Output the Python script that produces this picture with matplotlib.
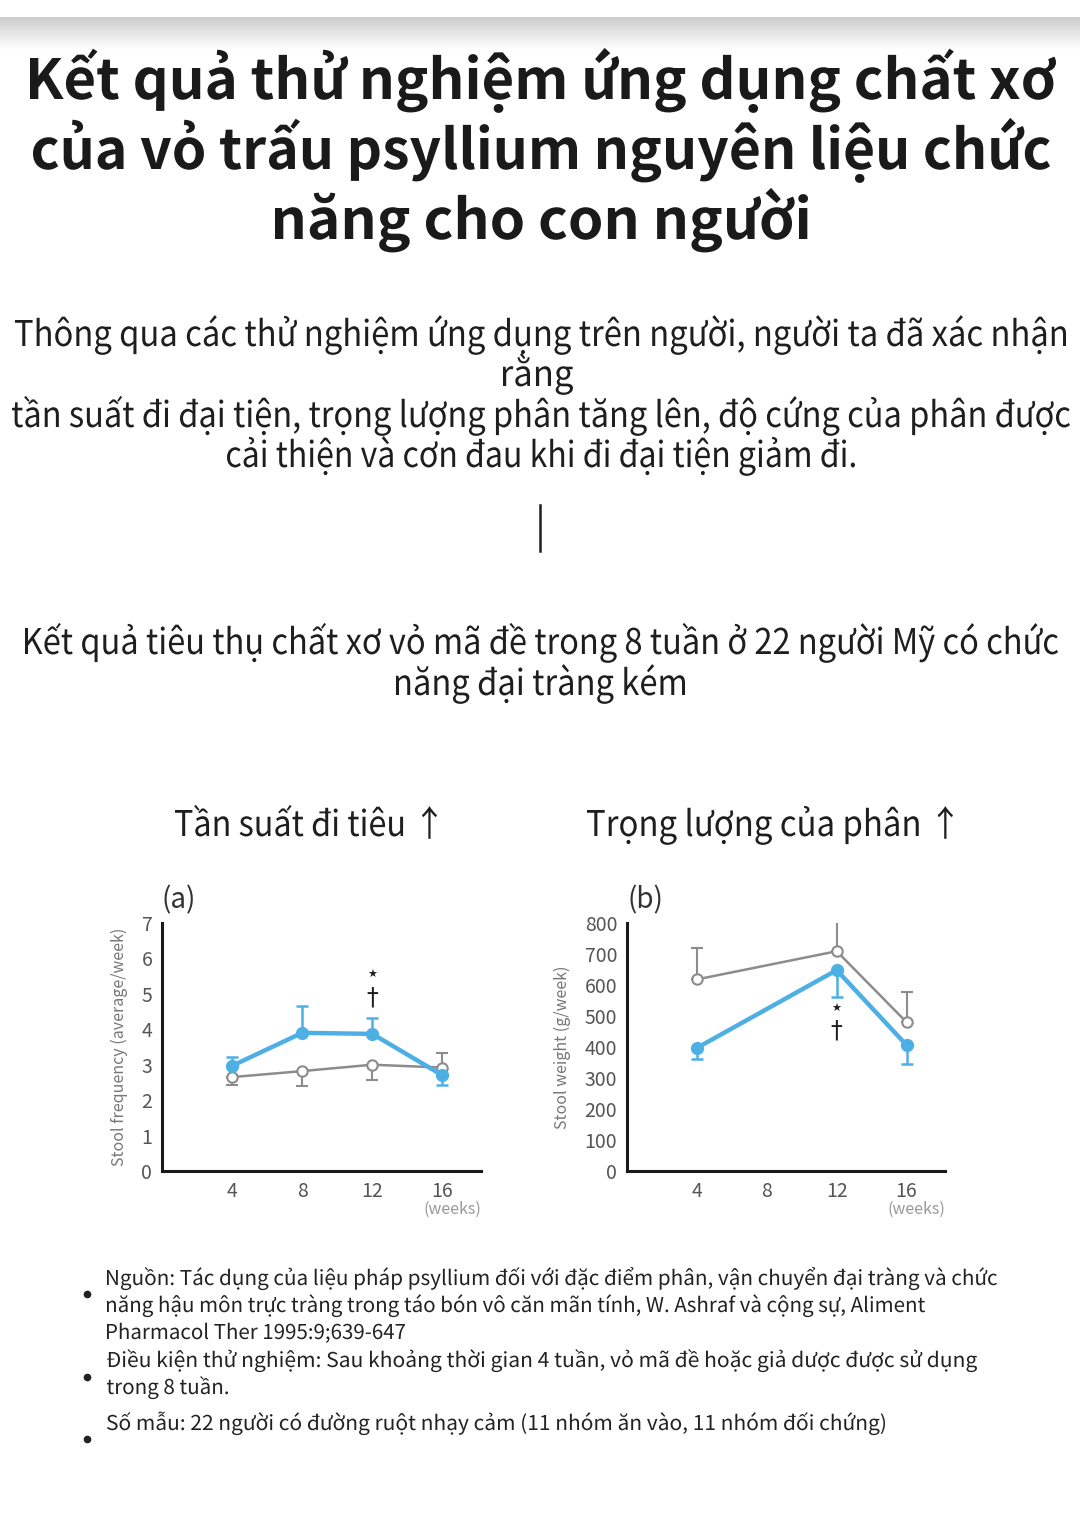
import numpy as np
import matplotlib.pyplot as plt
from matplotlib.font_manager import FontProperties
from matplotlib.textpath import TextPath
from matplotlib.patches import PathPatch
from matplotlib.transforms import Affine2D

FAMILY = ['Noto Sans CJK KR', 'Noto Sans', 'DejaVu Sans']
plt.rcParams['font.family'] = FAMILY

W, H = 1080, 1516

# --- texts ---
title_lines = ["Kết quả thử nghiệm ứng dụng chất xơ",
               "của vỏ trấu psyllium nguyên liệu chức",
               "năng cho con người"]
intro_lines = ["Thông qua các thử nghiệm ứng dụng trên người, người ta đã xác nhận",
               "rằng",
               "tần suất đi đại tiện, trọng lượng phân tăng lên, độ cứng của phân được",
               "cải thiện và cơn đau khi đi đại tiện giảm đi."]
study_lines = ["Kết quả tiêu thụ chất xơ vỏ mã đề trong 8 tuần ở 22 người Mỹ có chức",
               "năng đại tràng kém"]
chart_titles = ["Tần suất đi tiêu ↑", "Trọng lượng của phân ↑"]
notes = [["Nguồn: Tác dụng của liệu pháp psyllium đối với đặc điểm phân, vận chuyển đại tràng và chức",
          "năng hậu môn trực tràng trong táo bón vô căn mãn tính, W. Ashraf và cộng sự, Aliment",
          "Pharmacol Ther 1995:9;639-647"],
         ["Điều kiện thử nghiệm: Sau khoảng thời gian 4 tuần, vỏ mã đề hoặc giả dược được sử dụng",
          "trong 8 tuần."],
         ["Số mẫu: 22 người có đường ruột nhạy cảm (11 nhóm ăn vào, 11 nhóm đối chứng)"]]

# --- data ---
weeks = [4, 8, 12, 16]
ticks = [4, 8, 12, 16]

freq_psyllium = [2.97, 3.90, 3.87, 2.70]
freq_psyllium_err_up = [0.24, 0.76, 0.44, 0.0]
freq_psyllium_err_dn = [0.0, 0.0, 0.0, 0.26]
freq_placebo = [2.65, 2.82, 3.00, 2.92]
freq_placebo_err_up = [0.0, 0.0, 0.0, 0.40]
freq_placebo_err_dn = [0.22, 0.43, 0.44, 0.0]

weight_weeks = [4, 12, 16]
weight_psyllium = [397, 648, 406]
weight_psyllium_err_up = [0, 0, 0]
weight_psyllium_err_dn = [35, 86, 62]
weight_placebo = [618, 709, 480]
weight_placebo_err_up = [100, 183, 97]
weight_placebo_err_dn = [0, 0, 0]

BLUE = '#4db0e4'
GRAY = '#8c8c8c'
DARK = '#1e1e1e'

fp_reg = FontProperties(family=FAMILY)
fp_bold = FontProperties(family=FAMILY, weight='bold')


def fx(x):
    return x / W


def fy(y):
    return 1 - y / H


fig = plt.figure(figsize=(W / 100, H / 100), dpi=100)

# page layer in pixel coordinates (y down)
bg = fig.add_axes([0, 0, 1, 1])
bg.axis('off')

# shadow band at the top
grad = np.linspace(0.80, 1.0, 64).reshape(-1, 1)
bg.imshow(grad, cmap='gray', vmin=0, vmax=1, aspect='auto',
          extent=[0, W, 50, 17], interpolation='bilinear')
bg.set_xlim(0, W)
bg.set_ylim(H, 0)


def page_text(s, x0, x1, baseline, cap, fp=fp_reg, color=DARK):
    """Draw text squeezed to span x0..x1 with a given cap height."""
    ref = TextPath((0, 0), 'H', size=100, prop=fp).get_extents()
    size = 100 * cap / ref.height
    tp = TextPath((0, 0), s, size=size, prop=fp)
    bb = tp.get_extents()
    sx = (x1 - x0) / bb.width
    tr = Affine2D().translate(-bb.x0, 0).scale(sx, -1).translate(x0, baseline)
    bg.add_patch(PathPatch(tr.transform_path(tp), fc=color, ec='none', lw=0))


# title
for line, (x0, x1), b in zip(title_lines, [(30, 1056), (33, 1050), (275, 808)], [99, 169, 239]):
    page_text(line, x0, x1, b, 41, fp_bold, '#1a1a1a')

# intro paragraph
for line, (x0, x1), b in zip(intro_lines, [(15, 1066), (503, 573), (12, 1070), (227, 855)],
                             [346, 386, 427, 467]):
    page_text(line, x0, x1, b, 26)

# small vertical divider
bg.plot([540, 540], [505, 551], color=DARK, lw=1.8)

for line, (x0, x1), b in zip(study_lines, [(25, 1058), (396, 685)], [654, 695]):
    page_text(line, x0, x1, b, 26)

page_text(chart_titles[0], 175, 437, 836, 26)
page_text(chart_titles[1], 587, 953, 836, 26)

# footnotes
note_spans = [[(107, 997), (107, 925), (107, 405)], [(107, 977), (107, 228)], [(107, 885)]]
note_base = [[1285, 1312, 1339], [1367, 1394], [1430]]
bullet_y = [1294, 1377, 1439]
for lines, spans, bases, by in zip(notes, note_spans, note_base, bullet_y):
    for line, (x0, x1), b in zip(lines, spans, bases):
        page_text(line, x0, x1, b, 15, color='#222222')
    bg.plot([87], [by], 'o', color='#222222', ms=4.5)


def draw_panel(ax, label, ylabel, ymax, yticks):
    ax.set_xlim(0, 18.2)
    ax.set_ylim(0, ymax)
    ax.set_xticks(ticks)
    ax.set_yticks(yticks)
    ax.tick_params(length=0, labelsize=14, labelcolor='#555555', pad=7)
    for s in ['top', 'right']:
        ax.spines[s].set_visible(False)
    for s in ['left', 'bottom']:
        ax.spines[s].set_linewidth(2.2)
        ax.spines[s].set_color('#1a1a1a')
    ax.set_ylabel(ylabel, fontsize=11.5, color='#777777', labelpad=10)
    ax.text(0.0, 1.09, label, transform=ax.transAxes, fontsize=20,
            color='#333333', ha='left', va='center')
    ax.text(1.0, -0.155, '(weeks)', transform=ax.transAxes, fontsize=11.5,
            color='#999999', ha='right', va='center')
    ax.patch.set_alpha(0)


# panel (a)
ax1 = fig.add_axes([fx(162), fy(1171), (481 - 162) / W, (1171 - 923) / H])
draw_panel(ax1, '(a)', 'Stool frequency (average/week)', 7, range(0, 8))
ax1.errorbar(weeks, freq_placebo, yerr=[freq_placebo_err_dn, freq_placebo_err_up],
             color=GRAY, lw=1.8, marker='o', ms=7.5, mfc='white', mec=GRAY, mew=1.5,
             capsize=4, elinewidth=1.5, capthick=1.5, zorder=3)
ax1.errorbar(weeks, freq_psyllium, yerr=[freq_psyllium_err_dn, freq_psyllium_err_up],
             color=BLUE, lw=3.2, marker='o', ms=8.5, mfc=BLUE, mec=BLUE,
             capsize=4, elinewidth=1.8, capthick=1.8, zorder=4)
ax1.text(12, 5.52, '★', ha='center', va='center', fontsize=8, color=DARK,
         family='DejaVu Sans')
ax1.text(12, 4.9, '†', ha='center', va='center', fontsize=17, color=DARK,
         family='DejaVu Sans')

# panel (b)
ax2 = fig.add_axes([fx(627), fy(1171), (945 - 627) / W, (1171 - 923) / H])
draw_panel(ax2, '(b)', 'Stool weight (g/week)', 800, range(0, 801, 100))
ax2.errorbar(weight_weeks, weight_placebo, yerr=[weight_placebo_err_dn, weight_placebo_err_up],
             color=GRAY, lw=1.8, marker='o', ms=7.5, mfc='white', mec=GRAY, mew=1.5,
             capsize=4, elinewidth=1.5, capthick=1.5, zorder=3)
ax2.errorbar(weight_weeks, weight_psyllium, yerr=[weight_psyllium_err_dn, weight_psyllium_err_up],
             color=BLUE, lw=3.2, marker='o', ms=8.5, mfc=BLUE, mec=BLUE,
             capsize=4, elinewidth=1.8, capthick=1.8, zorder=4)
ax2.text(12, 523, '★', ha='center', va='center', fontsize=8, color=DARK,
         family='DejaVu Sans')
ax2.text(12, 452, '†', ha='center', va='center', fontsize=17, color=DARK,
         family='DejaVu Sans')

fig.savefig('out.png', dpi=100)
